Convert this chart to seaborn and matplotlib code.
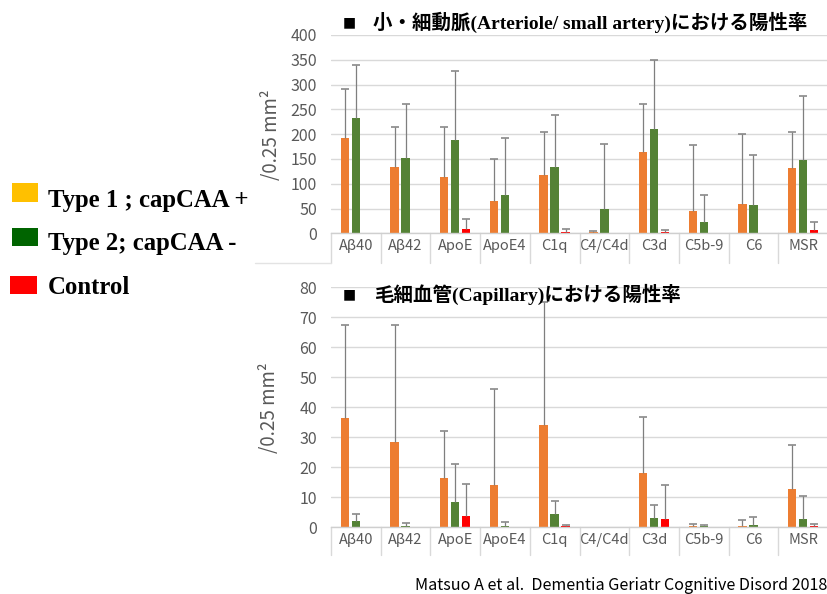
import matplotlib
matplotlib.use("Agg")
import matplotlib.pyplot as plt
from matplotlib.patches import Rectangle
from matplotlib.lines import Line2D
import numpy as np
import pandas as pd
import seaborn as sns

# ---- data -------------------------------------------------------------
categories = ["Aβ40", "Aβ42", "ApoE", "ApoE4", "C1q", "C4/C4d", "C3d", "C5b-9", "C6", "MSR"]
groups = ["Type 1 ; capCAA +", "Type 2; capCAA -", "Control"]

# arterioles / small arteries (per 0.25 mm2): mean and SD
art_type1_mean = [192, 133, 114, 66, 118, 3, 163, 45, 60, 131]
art_type1_sd = [100, 81, 100, 84, 86, 1, 97, 133, 140, 73]
art_type2_mean = [232, 152, 188, 77, 134, 49, 211, 23, 58, 147]
art_type2_sd = [108, 108, 139, 115, 105, 131, 138, 54, 99, 129]
art_ctrl_mean = [0, 0, 8, 0, 3, 0, 2, 0, 0, 6]
art_ctrl_sd = [0, 0, 21, 0, 6, 0, 5, 0, 0, 17]

# capillaries (per 0.25 mm2): mean and SD
cap_type1_mean = [36.5, 28.3, 16.3, 14.1, 34.1, 0, 18.0, 0.3, 0.4, 12.8]
cap_type1_sd = [30.9, 39.1, 15.7, 31.9, 41.0, 0, 18.8, 0.9, 2.1, 14.7]
cap_type2_mean = [2.0, 0.3, 8.3, 0.3, 4.5, 0, 3.2, 0.5, 0.7, 2.9]
cap_type2_sd = [2.4, 1.2, 12.7, 1.6, 4.3, 0, 4.2, 0.3, 2.8, 7.4]
cap_ctrl_mean = [0, 0, 3.9, 0, 0.4, 0, 2.9, 0, 0, 0.5]
cap_ctrl_sd = [0, 0, 10.5, 0, 0.2, 0, 11.2, 0, 0, 0.7]

bar_colors = {groups[0]: "#ED7D31", groups[1]: "#548235", groups[2]: "#FF0000"}
legend_colors = ["#FFC000", "#006400", "#FF0000"]

# ---- style ------------------------------------------------------------
sns.set_theme(style="white")
plt.rcParams["font.family"] = ["DejaVu Sans"]
axis_family = ["Noto Sans CJK JP", "DejaVu Sans"]
title_family = ["Liberation Serif", "Noto Sans CJK JP"]
grey_text = "#595959"

W, H = 828, 594
fig = plt.figure(figsize=(W / 100, H / 100), dpi=100)
fig.patch.set_facecolor("white")


def px_axes(left, top, right, bottom):
    return fig.add_axes([left / W, 1 - bottom / H, (right - left) / W, (bottom - top) / H])


def draw_panel(ax, means, sds, ymax, step, strip_px, ax_h_px):
    df = pd.DataFrame({
        "category": categories * 3,
        "group": np.repeat(groups, len(categories)),
        "value": np.concatenate(means),
    })
    sns.barplot(data=df, x="category", y="value", hue="group",
                order=categories, hue_order=groups, palette=bar_colors,
                saturation=1, width=0.664, gap=0.245, errorbar=None,
                linewidth=0, legend=False, ax=ax)
    # upper-only error bars on each bar (cap only at the top end)
    for container, m, s in zip(ax.containers, means, sds):
        for patch, mv, sv in zip(container, m, s):
            if sv <= 0:
                continue
            xc = patch.get_x() + patch.get_width() / 2
            _, caps, _ = ax.errorbar(xc, mv, yerr=[[0], [sv]], fmt="none", ecolor="#7F7F7F",
                                     elinewidth=0.9, capsize=2.9, capthick=1.1, zorder=3)
            for cap in caps:
                if np.allclose(cap.get_ydata(), mv):
                    cap.set_visible(False)
    ax.set_xlim(-0.5, len(categories) - 0.5)
    ax.set_ylim(0, ymax)
    ax.set_yticks(np.arange(0, ymax + 1, step))
    ax.set_xlabel("")
    ax.set_ylabel("")
    ax.yaxis.grid(True, color="#D9D9D9", linewidth=1)
    ax.set_axisbelow(True)
    for side in ("left", "right", "top"):
        ax.spines[side].set_visible(False)
    ax.spines["bottom"].set_color("#CFCFCF")
    ax.spines["bottom"].set_linewidth(1)
    ax.tick_params(axis="y", length=0, pad=10, labelsize=11.5, labelcolor=grey_text)
    ax.tick_params(axis="x", length=0, pad=4, labelsize=10.5, labelcolor=grey_text)
    for lab in ax.get_xticklabels() + ax.get_yticklabels():
        lab.set_fontfamily(axis_family)
    # category boxes under the axis
    for b in np.arange(-0.5, len(categories), 1.0):
        ax.add_line(Line2D([b, b], [0, -strip_px / ax_h_px], transform=ax.get_xaxis_transform(),
                           color="#D9D9D9", linewidth=1, clip_on=False))


ax_top = px_axes(331, 35, 828, 233.3)
ax_bot = px_axes(331, 287, 828, 527.3)

draw_panel(ax_top,
           [art_type1_mean, art_type2_mean, art_ctrl_mean],
           [art_type1_sd, art_type2_sd, art_ctrl_sd],
           400, 50, 30, 233.3 - 35)
draw_panel(ax_bot,
           [cap_type1_mean, cap_type2_mean, cap_ctrl_mean],
           [cap_type1_sd, cap_type2_sd, cap_ctrl_sd],
           80, 10, 28, 527.3 - 287)

# y-axis units
for yc, xc in ((135, 272), (408, 270)):
    fig.text(xc / W, 1 - yc / H, "/0.25 mm²", rotation=90, ha="center", va="center",
             fontsize=13.5, color=grey_text, family=axis_family)

# panel titles
fig.text(343 / W, 1 - 22 / H, "■", ha="left", va="center", fontsize=10, color="black")
fig.text(373 / W, 1 - 22 / H, "小・細動脈(Arteriole/ small artery)における陽性率",
         ha="left", va="center", fontsize=14, fontweight="bold", family=title_family, color="black")
fig.text(343 / W, 1 - 294 / H, "■", ha="left", va="center", fontsize=10, color="black")
fig.text(374 / W, 1 - 294 / H, "毛細血管(Capillary)における陽性率",
         ha="left", va="center", fontsize=14, fontweight="bold", family=title_family, color="black")

# group key on the left
key_boxes = [(12, 183, 26, 19), (12, 228, 26, 18), (10, 276, 27, 18)]
key_baselines = [207, 250, 294]
for (x, y, w, h), col, label, base in zip(key_boxes, legend_colors, groups, key_baselines):
    fig.add_artist(Rectangle((x / W, 1 - (y + h) / H), w / W, h / H, transform=fig.transFigure,
                             facecolor=col, edgecolor="none"))
    fig.text(48 / W, 1 - base / H, label, ha="left", va="baseline", fontsize=17.8,
             fontweight="bold", family=["Liberation Serif", "DejaVu Serif"], color="black")

# thin divider left of the upper panel's category strip
fig.add_artist(Line2D([255 / W, 331 / W], [1 - 263 / H, 1 - 263 / H], transform=fig.transFigure,
                      color="#E3E3E3", linewidth=1))

# source
fig.text(827 / W, 1 - 585 / H, "Matsuo A et al.  Dementia Geriatr Cognitive Disord 2018",
         ha="right", va="center", fontsize=11.6, family=["Noto Sans CJK JP", "DejaVu Sans"],
         color="black")

fig.savefig("out.png", dpi=100, facecolor="white")
